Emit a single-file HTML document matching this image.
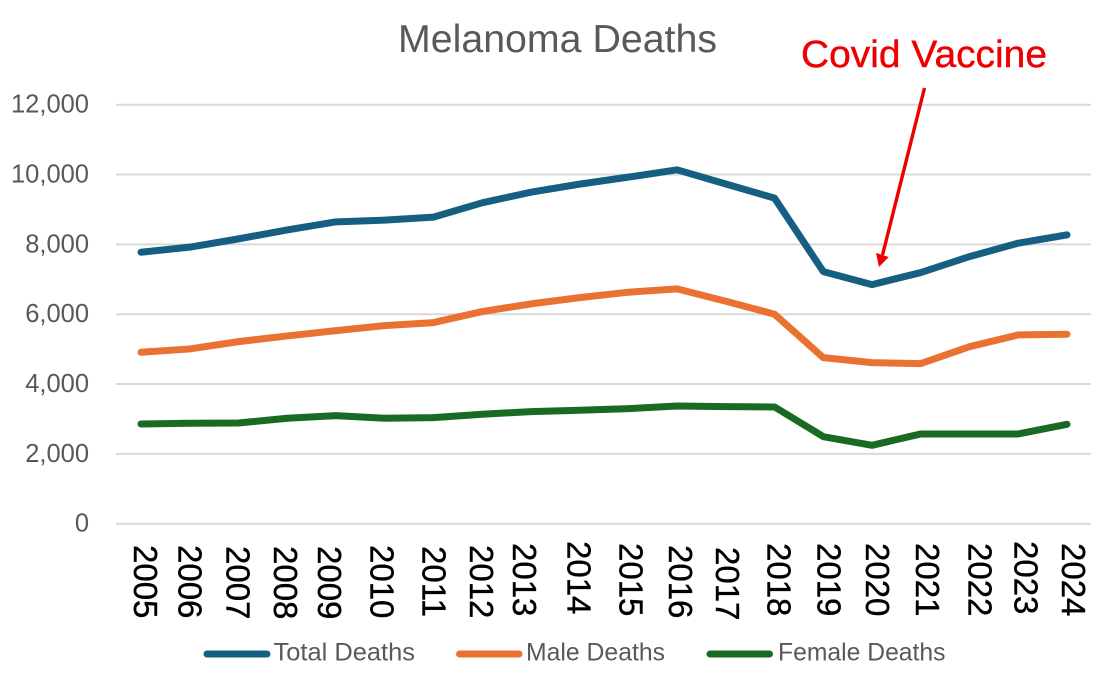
<!DOCTYPE html>
<html lang="en">
<head>
<meta charset="utf-8">
<title>Melanoma Deaths</title>
<style>
html,body{margin:0;padding:0;background:#fff;}
body{width:1100px;height:677px;overflow:hidden;}
svg{display:block;font-family:"Liberation Sans",sans-serif;}
</style>
</head>
<body>
<svg id="chart" xmlns="http://www.w3.org/2000/svg" width="1100" height="677" viewBox="0 0 1100 677">
  <rect x="0" y="0" width="1100" height="677" fill="#ffffff"/>
  <g id="grid"></g>
  <g id="yticks"></g>
  <g id="xticks"></g>
  <g id="series"></g>
  <text x="398" y="52" font-size="39" fill="#595959" textLength="319" lengthAdjust="spacingAndGlyphs">Melanoma Deaths</text>
  <text x="801" y="67" font-size="38" fill="#ee0000" stroke="#ee0000" stroke-width="0.4" textLength="246" lengthAdjust="spacingAndGlyphs">Covid Vaccine</text>
  <line x1="924.5" y1="88" x2="882.5" y2="255" stroke="#ee0000" stroke-width="3.4"/>
  <polygon points="879,267 876,253 888.7,257" fill="#ee0000"/>
  <g>
    <g>
      <line x1="207" y1="654" x2="267" y2="654" stroke="#156082" stroke-width="7" stroke-linecap="round"/>
      <text x="273.5" y="660.5" font-size="25" fill="#595959" textLength="141.5" lengthAdjust="spacingAndGlyphs">Total Deaths</text>
    </g>
    <g>
      <line x1="459.5" y1="654" x2="519" y2="654" stroke="#e97132" stroke-width="7" stroke-linecap="round"/>
      <text x="526" y="660.5" font-size="25" fill="#595959" textLength="139" lengthAdjust="spacingAndGlyphs">Male Deaths</text>
    </g>
    <g>
      <line x1="710" y1="654" x2="769.5" y2="654" stroke="#196b24" stroke-width="7" stroke-linecap="round"/>
      <text x="778" y="660.5" font-size="25" fill="#595959" textLength="167.5" lengthAdjust="spacingAndGlyphs">Female Deaths</text>
    </g>
  </g>
</svg>
<script>
const years = [2005,2006,2007,2008,2009,2010,2011,2012,2013,2014,2015,2016,2017,2018,2019,2020,2021,2022,2023,2024];
const totalDeaths = [7775,7920,8157,8415,8645,8693,8780,9190,9495,9725,9925,10135,9730,9324,7220,6848,7192,7650,8035,8272];
const maleDeaths = [4910,5005,5215,5378,5530,5673,5760,6075,6295,6475,6630,6725,6370,6000,4757,4613,4585,5070,5407,5427];
const femaleDeaths = [2857,2877,2885,3020,3095,3020,3037,3135,3210,3250,3295,3372,3352,3344,2493,2246,2570,2570,2570,2848];
const yTicks = [0,2000,4000,6000,8000,10000,12000];

// Hand-placed label jitter in the source picture (layout only, not data).
const labelShiftX = [5,1,0,-1,-6,-2,1,0,-6,0,3,4,2,5,6,6,7,11,8,7];
const labelStartY = [545,545,546,546,546,545,546,545,543,541,543,545,547,543,543,543,543,543,541,543];

const NS = 'http://www.w3.org/2000/svg';
function x(i){ return 141 + (1067 - 141) * i / (years.length - 1); }
function y(v){ return 523.7 - (523.7 - 104.7) * v / 12000; }
function fmt(v){ return v.toLocaleString('en-US'); }

const gridG = document.getElementById('grid');
const yG = document.getElementById('yticks');
yTicks.forEach(function(t){
  const ln = document.createElementNS(NS,'line');
  
  
  ln.setAttribute('x1', 116);
  ln.setAttribute('x2', 1091);
  ln.setAttribute('y1', y(t));
  ln.setAttribute('y2', y(t));
  ln.setAttribute('stroke', '#d9d9d9');
  ln.setAttribute('stroke-width', '2');
  gridG.appendChild(ln);
  const tx = document.createElementNS(NS,'text');
  
  
  tx.setAttribute('x', 89);
  tx.setAttribute('y', y(t) + 8);
  tx.setAttribute('text-anchor', 'end');
  tx.setAttribute('font-size', '25.5');
  tx.setAttribute('fill', '#595959');
  tx.textContent = fmt(t);
  yG.appendChild(tx);
});

const xG = document.getElementById('xticks');
years.forEach(function(yr,i){
  const tx = document.createElementNS(NS,'text');
  
  
  const cx = x(i) + labelShiftX[i];
  const sy = labelStartY[i];
  tx.setAttribute('transform', 'translate(' + (cx - 12) + ',' + sy + ') rotate(90)');
  tx.setAttribute('font-size', '33');
  tx.setAttribute('fill', '#000000');
  tx.setAttribute('stroke', '#000000');
  tx.setAttribute('stroke-width', '0.4');
  tx.textContent = yr;
  xG.appendChild(tx);
});

function drawLine(values, color, name){
  const p = document.createElementNS(NS,'polyline');
  
  
  p.setAttribute('points', values.map(function(v,i){ return x(i).toFixed(2) + ',' + y(v).toFixed(2); }).join(' '));
  p.setAttribute('fill', 'none');
  p.setAttribute('stroke', color);
  p.setAttribute('stroke-width', '7');
  p.setAttribute('stroke-linecap', 'round');
  p.setAttribute('stroke-linejoin', 'round');
  document.getElementById('series').appendChild(p);
}
drawLine(totalDeaths, '#156082', 'total-deaths-line');
drawLine(maleDeaths, '#e97132', 'male-deaths-line');
drawLine(femaleDeaths, '#196b24', 'female-deaths-line');
</script>
</body>
</html>
